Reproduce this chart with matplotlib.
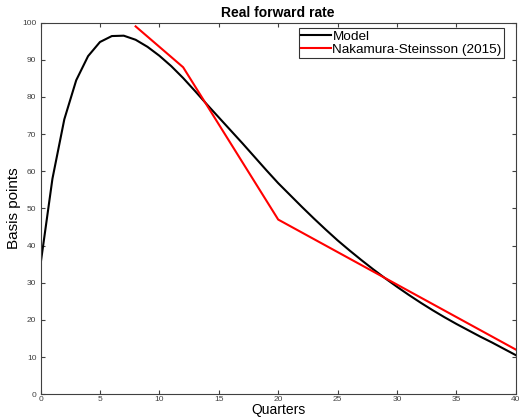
"""
Real forward rate: model response vs Nakamura-Steinsson (2015) estimates.
"""

import matplotlib
matplotlib.use('Agg')
import matplotlib.pyplot as plt

plt.rcParams['font.family'] = ['Liberation Sans', 'DejaVu Sans']

# Model response, one value per quarter (0..40)
quarters = list(range(41))
model = [35.0, 58.0, 74.0, 84.5, 91.0, 94.8, 96.4, 96.5, 95.4, 93.5,
         91.1, 88.3, 85.1, 81.6, 78.0, 74.5, 71.0, 67.5, 63.9, 60.3,
         56.8, 53.6, 50.4, 47.3, 44.3, 41.4, 38.7, 36.1, 33.6, 31.2,
         28.9, 26.7, 24.6, 22.6, 20.7, 18.9, 17.2, 15.5, 13.9, 12.2,
         10.5]

# Nakamura-Steinsson (2015) points
ns_quarters = [8, 12, 20, 40]
ns_values = [99, 88, 47, 12]

xticks = [0, 5, 10, 15, 20, 25, 30, 35, 40]
yticks = [0, 10, 20, 30, 40, 50, 60, 70, 80, 90, 100]

gray = '#404040'

fig = plt.figure(figsize=(5.2, 4.2), dpi=100)
ax = fig.add_axes([0.078, 0.0615, 0.914, 0.8845])

ax.plot(quarters, model, color='black', linewidth=1.5, label='Model')
ax.plot(ns_quarters, ns_values, color='red', linewidth=1.5,
        label='Nakamura-Steinsson (2015)')

ax.set_xlim(0, 40)
ax.set_ylim(0, 100)
ax.set_xticks(xticks)
ax.set_yticks(yticks)
ax.tick_params(direction='in', length=3, width=0.8, labelsize=6,
               colors=gray, top=True, right=True)
ax.tick_params(axis='x', pad=1.5)
ax.tick_params(axis='y', pad=3)
for s in ax.spines.values():
    s.set_color(gray)
    s.set_linewidth(0.8)

ax.set_title('Real forward rate', fontsize=10, fontweight='bold', pad=4)
ax.set_xlabel('Quarters', fontsize=10, labelpad=-0.5)
ax.set_ylabel('Basis points', fontsize=11, labelpad=0.5)

leg = ax.legend(loc='upper right', fontsize=9.7, frameon=True, fancybox=False,
                edgecolor='black', handlelength=2.2, handletextpad=0.1,
                borderpad=0.15, labelspacing=0.05, borderaxespad=0.4,
                bbox_to_anchor=(0.986, 1.0))
leg.get_frame().set_linewidth(0.8)

fig.savefig('out.png', dpi=100)
